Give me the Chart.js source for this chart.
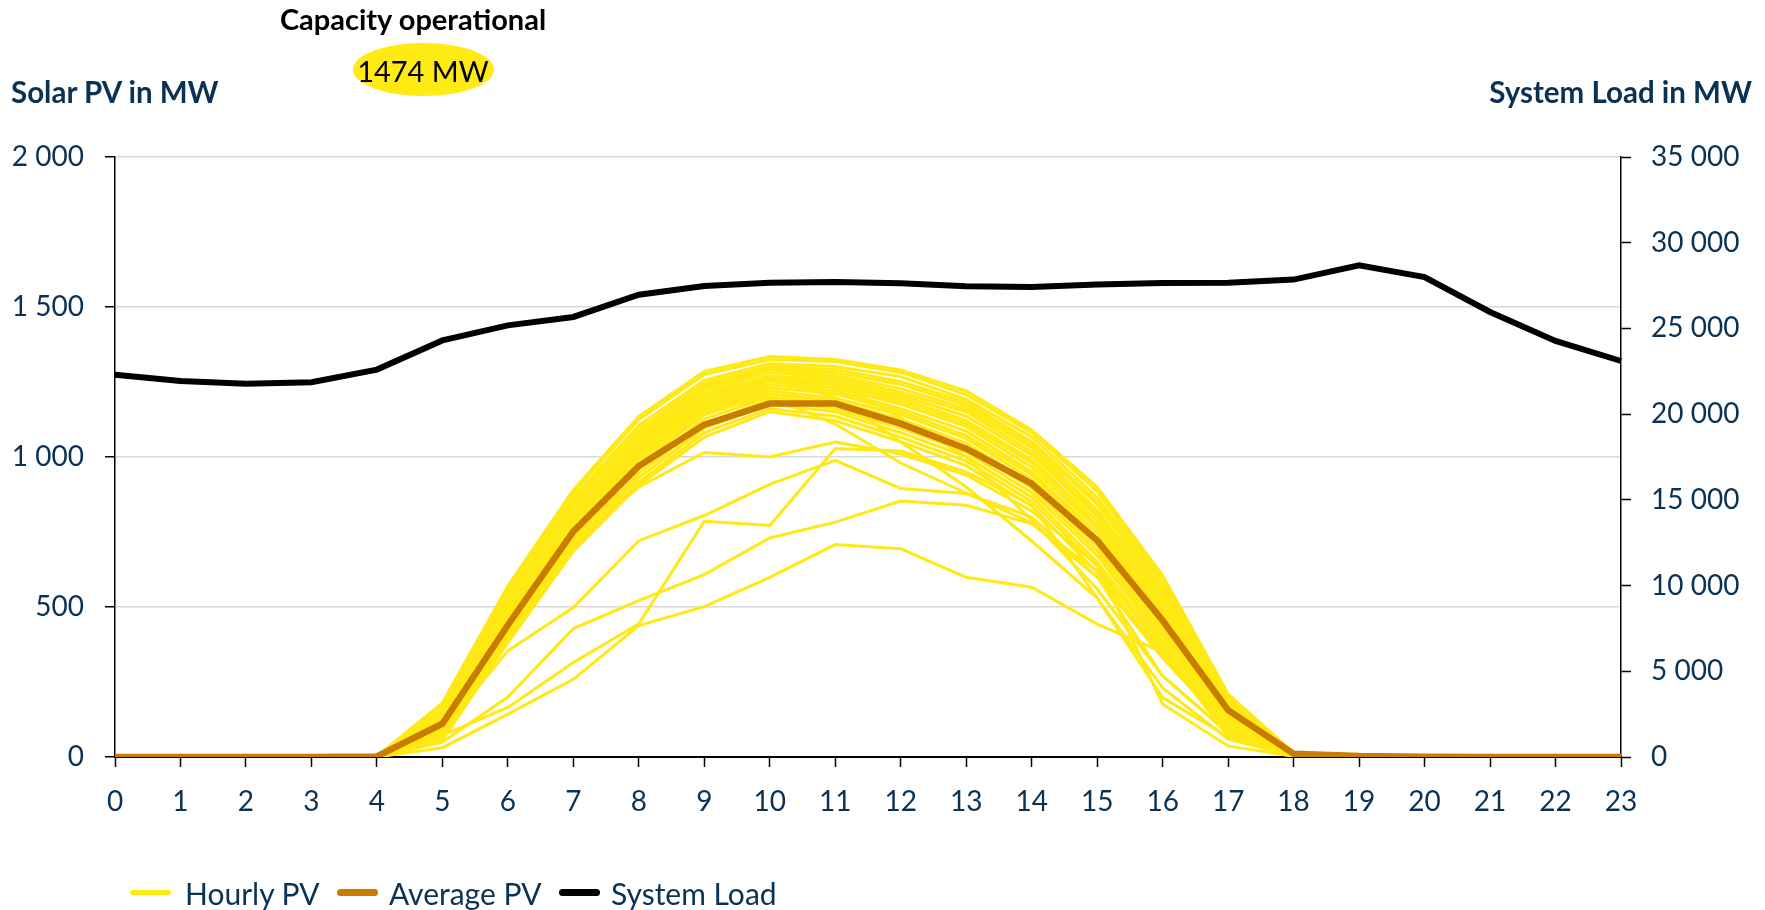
<!DOCTYPE html>
<html>
<head>
<meta charset="utf-8">
<script src="https://cdn.jsdelivr.net/npm/chart.js@4.4.1/dist/chart.umd.min.js"></script>
<style>
  body { margin: 0; background: #fff; }
  #wrap { position: relative; width: 1765px; height: 910px; overflow: hidden; font-family: Lato, sans-serif; }
  #chart { position: absolute; left: 0; top: 0; }
  .txt { position: absolute; white-space: nowrap; line-height: 1; }
  .navy { color: #0B3255; }
  #capTitle { left: 413px; top: 4px; font-size: 29px; font-weight: bold; color: #000; transform: translateX(-50%); }
  #capOval { position: absolute; left: 353px; top: 43px; width: 141px; height: 53px; border-radius: 50%; background: #FFEA14; }
  #capValue { left: 423px; top: 56px; font-size: 29px; color: #000; transform: translateX(-50%); }
  #leftTitle { left: 11px; top: 77px; font-size: 29.5px; font-weight: bold; }
  #rightTitle { right: 13px; top: 77px; font-size: 29.5px; font-weight: bold; }
  .sw { position: absolute; width: 41px; border-radius: 4px; }
  .leg { top: 878px; font-size: 30px; }
</style>
</head>
<body>
<div id="wrap">
  <canvas id="chart" width="1765" height="910"></canvas>
  <div class="txt" id="capTitle">Capacity operational</div>
  <div id="capOval"></div>
  <div class="txt" id="capValue">1474 MW</div>
  <div class="txt navy" id="leftTitle">Solar PV in MW</div>
  <div class="txt navy" id="rightTitle">System Load in MW</div>

  <div class="sw" style="left:130px; top:890px; height:5px; background:#FFE914;"></div>
  <div class="txt navy leg" style="left:185px;">Hourly PV</div>
  <div class="sw" style="left:337px; top:889px; height:7px; background:#C97C00;"></div>
  <div class="txt navy leg" style="left:389px;">Average PV</div>
  <div class="sw" style="left:559px; top:889px; height:7px; background:#000;"></div>
  <div class="txt navy leg" style="left:611px;">System Load</div>
</div>
<script>
// hours of the day
const hours = ['0','1','2','3','4','5','6','7','8','9','10','11','12','13','14','15','16','17','18','19','20','21','22','23'];
const leftTicks = ['0', '500', '1 000', '1 500', '2 000'];
const rightTicks = ['0', '5 000', '10 000', '15 000', '20 000', '25 000', '30 000', '35 000'];

// system load (right axis, MW)
const systemLoad = [22300, 21930, 21780, 21860, 22600, 24300, 25180, 25670, 26970, 27480, 27670, 27710,
                    27630, 27460, 27420, 27560, 27650, 27670, 27850, 28680, 28000, 25960, 24270, 23100];
// average PV (left axis, MW)
const averagePV = [0, 0, 0, 0, 2, 111, 440, 752, 970, 1108, 1178, 1178, 1111, 1028, 911, 722, 455, 156, 11, 3, 1, 0, 0, 0];

// hourly PV, one line per day
const day01 = [0,0,0,0,2,180,570,890,1135,1285,1335,1325,1290,1220,1090,900,605,210,14,0,0,0,0,0];
const day02 = [0,0,0,0,2,172,560,880,1125,1275,1325,1318,1282,1208,1082,885,592,202,13,0,0,0,0,0];
const day03 = [0,0,0,0,1,158,545,865,1105,1255,1312,1302,1268,1192,1068,866,578,193,12,0,0,0,0,0];
const day04 = [0,0,0,0,1,146,530,852,1092,1243,1303,1292,1252,1182,1052,852,562,186,12,0,0,0,0,0];
const day05 = [0,0,0,0,1,134,514,842,1082,1236,1296,1282,1242,1172,1042,842,548,181,11,0,0,0,0,0];
const day06 = [0,0,0,0,1,127,503,832,1072,1227,1291,1272,1228,1161,1031,823,532,176,11,0,0,0,0,0];
const day07 = [0,0,0,0,1,121,496,822,1061,1216,1282,1266,1216,1151,1017,812,521,171,10,0,0,0,0,0];
const day08 = [0,0,0,0,1,116,487,811,1051,1206,1271,1256,1206,1136,1006,801,507,166,10,0,0,0,0,0];
const day09 = [0,0,0,0,1,111,477,801,1041,1201,1266,1246,1196,1121,991,786,496,161,10,0,0,0,0,0];
const day10 = [0,0,0,0,1,106,471,791,1031,1191,1256,1241,1186,1111,981,771,481,151,9,0,0,0,0,0];
const day11 = [0,0,0,0,1,101,461,781,1021,1181,1251,1231,1176,1101,966,761,471,146,9,0,0,0,0,0];
const day12 = [0,0,0,0,1,96,451,771,1011,1171,1241,1221,1161,1086,951,746,461,141,9,0,0,0,0,0];
const day13 = [0,0,0,0,1,91,441,761,1001,1161,1231,1211,1151,1071,941,731,446,131,8,0,0,0,0,0];
const day14 = [0,0,0,0,1,86,431,751,991,1151,1221,1196,1141,1061,926,716,431,126,8,0,0,0,0,0];
const day15 = [0,0,0,0,1,81,421,736,976,1141,1211,1186,1126,1046,911,701,416,121,8,0,0,0,0,0];
const day16 = [0,0,0,0,1,76,411,726,961,1126,1201,1176,1111,1031,896,686,401,111,7,0,0,0,0,0];
const day17 = [0,0,0,0,0,71,401,711,946,1111,1191,1161,1096,1016,881,671,386,106,7,0,0,0,0,0];
const day18 = [0,0,0,0,0,66,391,701,931,1096,1176,1151,1081,1001,866,651,371,101,6,0,0,0,0,0];
const day19 = [0,0,0,0,0,61,386,691,916,1081,1161,1136,1066,986,851,636,356,96,6,0,0,0,0,0];
const day20 = [0,0,0,0,0,56,381,686,906,1066,1151,1121,1051,971,836,616,341,91,5,0,0,0,0,0];
const day21 = [0,0,0,0,1,150,530,855,1090,1245,1300,1250,1130,1000,790,560,270,80,5,0,0,0,0,0];
const day22 = [0,0,0,0,1,120,480,800,1040,1200,1260,1200,1050,900,720,530,230,60,4,0,0,0,0,0];
const day23 = [0,0,0,0,1,100,450,770,1000,1150,1200,1110,980,880,780,600,330,95,5,0,0,0,0,0];
const day24 = [0,0,0,0,0,31,143,259,438,501,599,708,694,599,566,443,350,70,3,0,0,0,0,0];
const day25 = [0,0,0,0,0,50,200,428,521,608,730,783,853,839,777,620,380,110,5,0,0,0,0,0];
const day26 = [0,0,0,0,1,90,354,498,721,805,909,989,895,878,800,600,270,80,4,0,0,0,0,0];
const day27 = [0,0,0,0,1,110,420,720,900,1015,1000,1050,1010,940,820,640,176,37,2,0,0,0,0,0];
const day28 = [0,0,0,0,0,72,165,315,444,786,772,1028,1020,950,840,530,198,67,3,0,0,0,0,0];
const hourlyPV = [day01, day02, day03, day04, day05, day06, day07, day08, day09, day10, day11, day12, day13, day14,
                  day15, day16, day17, day18, day19, day20, day21, day22, day23, day24, day25, day26, day27, day28];

const NAVY = '#0B3255';
Chart.defaults.font.family = 'Lato, sans-serif';

const datasets = hourlyPV.map(d => ({
  label: 'Hourly PV',
  data: d,
  borderColor: '#FFE914',
  borderWidth: 3,
  pointRadius: 0,
  yAxisID: 'y',
  order: 2
}));
datasets.push({
  label: 'Average PV',
  data: averagePV,
  borderColor: '#C97C00',
  borderWidth: 6.5,
  pointRadius: 0,
  yAxisID: 'y',
  order: 1
});
datasets.push({
  label: 'System Load',
  data: systemLoad,
  borderColor: '#000',
  borderWidth: 6,
  pointRadius: 0,
  yAxisID: 'y2',
  order: 0
});

new Chart(document.getElementById('chart'), {
  type: 'line',
  data: { labels: hours, datasets: datasets },
  options: {
    responsive: false,
    animation: false,
    layout: { padding: { top: 157, left: 0, right: 0, bottom: 0 } },
    plugins: { legend: { display: false }, tooltip: { enabled: false } },
    scales: {
      x: {
        offset: false,
        grid: { drawOnChartArea: false, drawTicks: true, tickLength: 10, tickColor: '#000', tickWidth: 1.5 },
        border: { color: '#000', width: 2 },
        ticks: { color: NAVY, font: { size: 28 }, padding: 18, maxRotation: 0, autoSkip: false },
        afterFit(s) { s.height = 153; }
      },
      y: {
        position: 'left',
        min: 0, max: 2000,
        grid: {
          color: c => (c.tick && c.tick.value === 0) ? '#000' : '#D9D9D9',
          lineWidth: 1.5, tickColor: '#000', tickLength: 10, tickWidth: 1.5
        },
        border: { color: '#000', width: 1.5 },
        ticks: { stepSize: 500, color: NAVY, font: { size: 28 }, padding: 21, callback: v => leftTicks[v / 500] },
        afterFit(s) { s.width = 115; }
      },
      y2: {
        position: 'right',
        min: 0, max: 35000,
        grid: { drawOnChartArea: false, tickColor: '#000', tickLength: 10, tickWidth: 1.5 },
        border: { color: '#000', width: 1.5 },
        ticks: { stepSize: 5000, color: NAVY, font: { size: 28 }, padding: 20, callback: v => rightTicks[v / 5000] },
        afterFit(s) { s.width = 144; }
      }
    }
  }
});
</script>
</body>
</html>
